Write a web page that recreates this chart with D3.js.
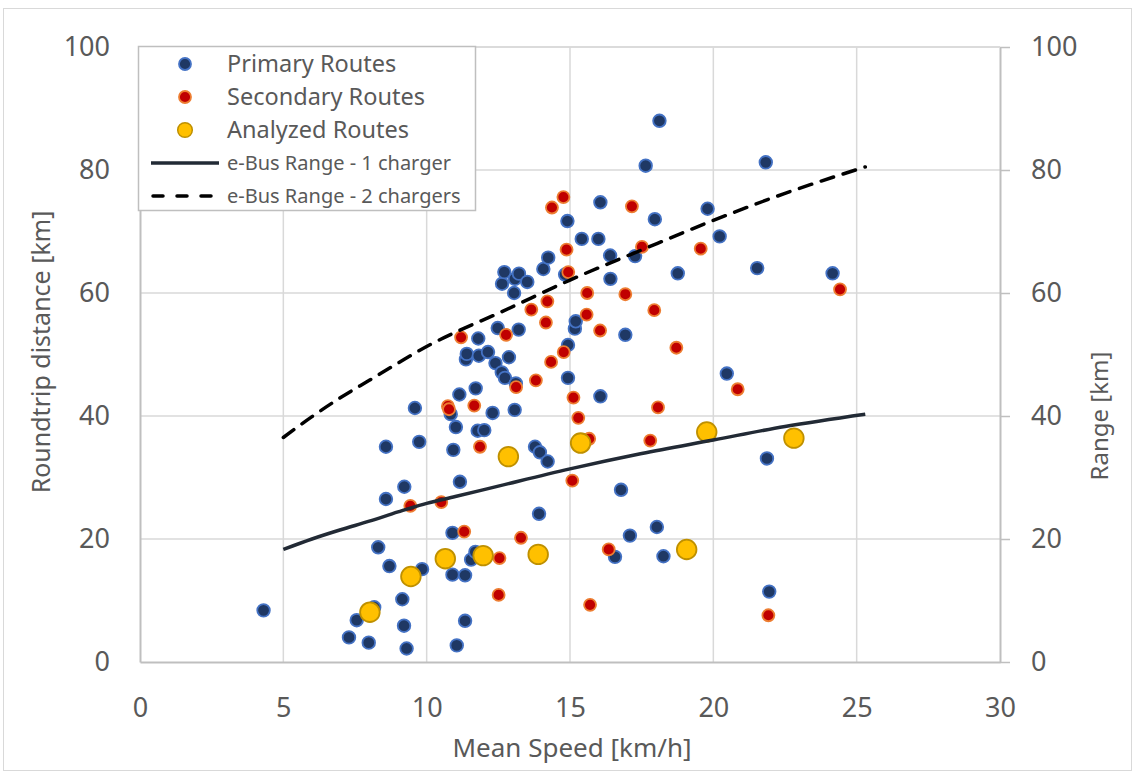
<!DOCTYPE html>
<html>
<head>
<meta charset="utf-8">
<script src="https://cdn.jsdelivr.net/npm/d3@7/dist/d3.min.js"></script>
<style>
  html, body { margin: 0; padding: 0; background: #fff; }
  svg { display: block; }
  text { font-family: "Noto Sans", "Open Sans", sans-serif; fill: #595959; }
</style>
</head>
<body>
<svg id="chart" width="1133" height="772"></svg>
<script>
// ---------------- DATA ----------------
const xTicks = [0, 5, 10, 15, 20, 25, 30];
const yTicks = [0, 20, 40, 60, 80, 100];

const primarySpeed = [4.31,7.29,7.56,7.98,8.17,8.31,8.58,8.58,8.70,9.15,9.21,9.30,9.22,9.59,9.74,9.84,10.84,10.90,10.90,10.93,11.02,11.05,11.14,11.16,11.34,11.34,11.37,11.40,11.55,11.70,11.71,11.78,11.80,11.82,12.01,12.14,12.30,12.40,12.48,12.63,12.62,12.71,12.73,12.87,13.05,13.08,13.07,13.11,13.21,13.22,13.51,13.78,13.92,13.95,14.07,14.22,14.24,14.83,14.91,14.93,14.93,15.17,15.20,15.41,15.99,16.06,16.06,16.40,16.41,16.57,16.78,16.93,17.09,17.27,17.64,17.96,18.03,18.12,18.26,18.76,19.80,20.22,20.47,21.53,21.83,21.87,21.95,24.16];
const primaryDist  = [8.4,4.0,6.8,3.15,8.9,18.65,35.0,26.5,15.6,10.2,5.9,2.2,28.5,41.3,35.8,15.1,40.3,21.0,14.2,34.5,38.2,2.7,43.5,29.3,14.1,6.7,49.2,50.1,16.65,17.9,44.5,37.6,52.6,49.8,37.7,50.4,40.5,48.6,54.3,61.5,47.1,63.4,46.2,49.55,60.0,62.3,41.0,45.3,54.05,63.15,61.8,35.0,24.1,34.1,63.9,32.6,65.75,63.0,71.7,51.55,46.2,54.2,55.4,68.8,68.8,74.75,43.2,66.1,62.3,17.1,28.0,53.2,20.55,66.0,80.7,72.0,21.95,88.0,17.2,63.2,73.7,69.2,46.9,64.05,81.25,33.1,11.45,63.2];

const secondarySpeed = [9.43,10.51,10.74,10.78,11.20,11.31,11.66,11.86,12.51,12.54,12.77,13.12,13.29,13.65,13.81,14.16,14.21,14.34,14.37,14.77,14.78,14.88,14.94,15.08,15.12,15.29,15.58,15.60,15.67,15.70,16.05,16.35,16.93,17.16,17.51,17.80,17.94,18.07,18.71,19.56,20.85,21.92,24.42];
const secondaryDist  = [25.4,26.0,41.6,41.1,52.8,21.2,41.7,35.0,10.9,16.9,53.2,44.7,20.2,57.3,45.8,55.2,58.65,48.8,73.9,75.6,50.4,67.05,63.4,29.5,43.0,39.7,56.5,60.0,36.3,9.3,53.9,18.3,59.8,74.1,67.5,36.0,57.2,41.4,51.1,67.2,44.35,7.6,60.6];

const analyzedSpeed = [8.02,9.45,10.65,11.97,12.85,13.89,15.37,19.07,19.77,22.81];
const analyzedDist  = [8.1,13.9,16.8,17.3,33.4,17.5,35.6,18.3,37.4,36.4];

const range1Speed = [5,6,7,8,9,10,11,12.5,15,17.5,20,22.5,25.3];
const range1Km    = [18.3,20.0,21.5,22.9,24.4,25.8,26.9,28.6,31.4,33.9,36.1,38.3,40.3];

const range2Speed = [5,6,7,8,9,10,11,12.5,15,17.5,20,22.5,25.3];
const range2Km    = [36.5,39.9,43.0,45.8,48.6,51.3,53.6,56.7,62.1,67.0,71.8,76.2,80.5];

const legendLabels = ["Primary Routes","Secondary Routes","Analyzed Routes","e-Bus Range - 1 charger","e-Bus Range - 2 chargers"];

// ---------------- CHART ----------------
const svg = d3.select("#chart");
const L = 140, R = 1000, T = 47, B = 662;
const x = d3.scaleLinear().domain([0, 30]).range([L, R]);
const y = d3.scaleLinear().domain([0, 100]).range([B, T]);

// outer border
svg.append("rect").attr("x", 3.5).attr("y", 8.5).attr("width", 1128).attr("height", 762)
  .attr("fill", "none").attr("stroke", "#d9d9d9").attr("stroke-width", 1);

// gridlines
const grid = svg.append("g");
grid.selectAll(".gx").data(xTicks.filter(d => d > 0 && d < 30)).join("line")
  .attr("x1", d => x(d)).attr("x2", d => x(d)).attr("y1", T).attr("y2", B)
  .attr("stroke", "#d9d9d9").attr("stroke-width", 1.5);
grid.selectAll(".gy").data(yTicks.filter(d => d > 0)).join("line")
  .attr("x1", L).attr("x2", R).attr("y1", d => y(d)).attr("y2", d => y(d))
  .attr("stroke", "#d9d9d9").attr("stroke-width", 1.5);

// axes
const fontSize = 27;
const gL = svg.append("g").attr("transform", `translate(${L},0)`)
  .call(d3.axisLeft(y).tickValues(yTicks).tickSize(0).tickPadding(30));
const gR = svg.append("g").attr("transform", `translate(${R},0)`)
  .call(d3.axisRight(y).tickValues(yTicks).tickSizeInner(10).tickSizeOuter(0).tickPadding(21));
const gB = svg.append("g").attr("transform", `translate(0,${B})`)
  .call(d3.axisBottom(x).tickValues(xTicks).tickSize(0).tickPadding(36));
[gL, gR, gB].forEach(g => {
  g.selectAll("text").attr("font-size", fontSize).attr("fill", "#595959")
    .attr("font-family", '"Noto Sans", "Open Sans", sans-serif');
  g.selectAll(".tick line").attr("stroke", "#bfbfbf").attr("stroke-width", 1.5);
});
gL.select(".domain").attr("stroke", "#bfbfbf").attr("stroke-width", 2);
gR.select(".domain").attr("stroke", "#bfbfbf").attr("stroke-width", 2);
gB.select(".domain").attr("stroke", "#bfbfbf").attr("stroke-width", 2);
// top border line of plot area
svg.append("line").attr("x1", L).attr("x2", R).attr("y1", T).attr("y2", T)
  .attr("stroke", "#d9d9d9").attr("stroke-width", 1.5);

// axis titles
svg.append("text").attr("transform", `translate(50,352) rotate(-90)`)
  .attr("text-anchor", "middle").attr("font-size", 25).text("Roundtrip distance [km]");
svg.append("text").attr("transform", `translate(1108,416) rotate(-90)`)
  .attr("text-anchor", "middle").attr("font-size", 24).text("Range [km]");
svg.append("text").attr("x", 572).attr("y", 757)
  .attr("text-anchor", "middle").attr("font-size", 26).text("Mean Speed [km/h]");

// marks
const zip = (a, b) => a.map((v, i) => [v, b[i]]);
const marks = svg.append("g");
marks.selectAll(".p").data(zip(primarySpeed, primaryDist)).join("circle")
  .attr("cx", d => x(d[0])).attr("cy", d => y(d[1])).attr("r", 6.3)
  .attr("fill", "#1f3864").attr("stroke", "#4472c4").attr("stroke-width", 1.8);
marks.selectAll(".s").data(zip(secondarySpeed, secondaryDist)).join("circle")
  .attr("cx", d => x(d[0])).attr("cy", d => y(d[1])).attr("r", 6.0)
  .attr("fill", "#c00000").attr("stroke", "#ed7d31").attr("stroke-width", 1.8);

const line = d3.line().x(d => x(d[0])).y(d => y(d[1])).curve(d3.curveMonotoneX);
svg.append("path").datum(zip(range1Speed, range1Km)).attr("d", line)
  .attr("fill", "none").attr("stroke", "#222a35").attr("stroke-width", 3.5);
svg.append("path").datum(zip(range2Speed, range2Km)).attr("d", line)
  .attr("fill", "none").attr("stroke", "#000").attr("stroke-width", 3.5)
  .attr("stroke-dasharray", "13,10").attr("stroke-linecap", "round");

marks.append("g").selectAll("circle").data(zip(analyzedSpeed, analyzedDist)).join("circle")
  .attr("cx", d => x(d[0])).attr("cy", d => y(d[1])).attr("r", 9.8)
  .attr("fill", "#ffc000").attr("stroke", "#bf9000").attr("stroke-width", 1.8);

// legend
const lg = svg.append("g");
lg.append("rect").attr("x", 138.5).attr("y", 46.5).attr("width", 337).attr("height", 164)
  .attr("fill", "#fff").attr("stroke", "#bfbfbf").attr("stroke-width", 1.5);
const ly = [64, 97, 130, 163, 196];
lg.append("circle").attr("cx", 185).attr("cy", ly[0]).attr("r", 6)
  .attr("fill", "#1f3864").attr("stroke", "#4472c4").attr("stroke-width", 1.8);
lg.append("circle").attr("cx", 185).attr("cy", ly[1]).attr("r", 6)
  .attr("fill", "#c00000").attr("stroke", "#ed7d31").attr("stroke-width", 1.8);
lg.append("circle").attr("cx", 185).attr("cy", ly[2]).attr("r", 7.3)
  .attr("fill", "#ffc000").attr("stroke", "#bf9000").attr("stroke-width", 1.5);
lg.append("line").attr("x1", 151).attr("x2", 219).attr("y1", ly[3]).attr("y2", ly[3])
  .attr("stroke", "#222a35").attr("stroke-width", 3.5);
lg.append("line").attr("x1", 153).attr("x2", 219).attr("y1", ly[4]).attr("y2", ly[4])
  .attr("stroke", "#000").attr("stroke-width", 3.5).attr("stroke-dasharray", "10,14").attr("stroke-linecap", "round");
legendLabels.forEach((t, i) => {
  lg.append("text").attr("x", 227).attr("y", ly[i]).attr("dy", "0.35em")
    .attr("font-size", i < 3 ? 23.5 : 20).text(t);
});
</script>
</body>
</html>
